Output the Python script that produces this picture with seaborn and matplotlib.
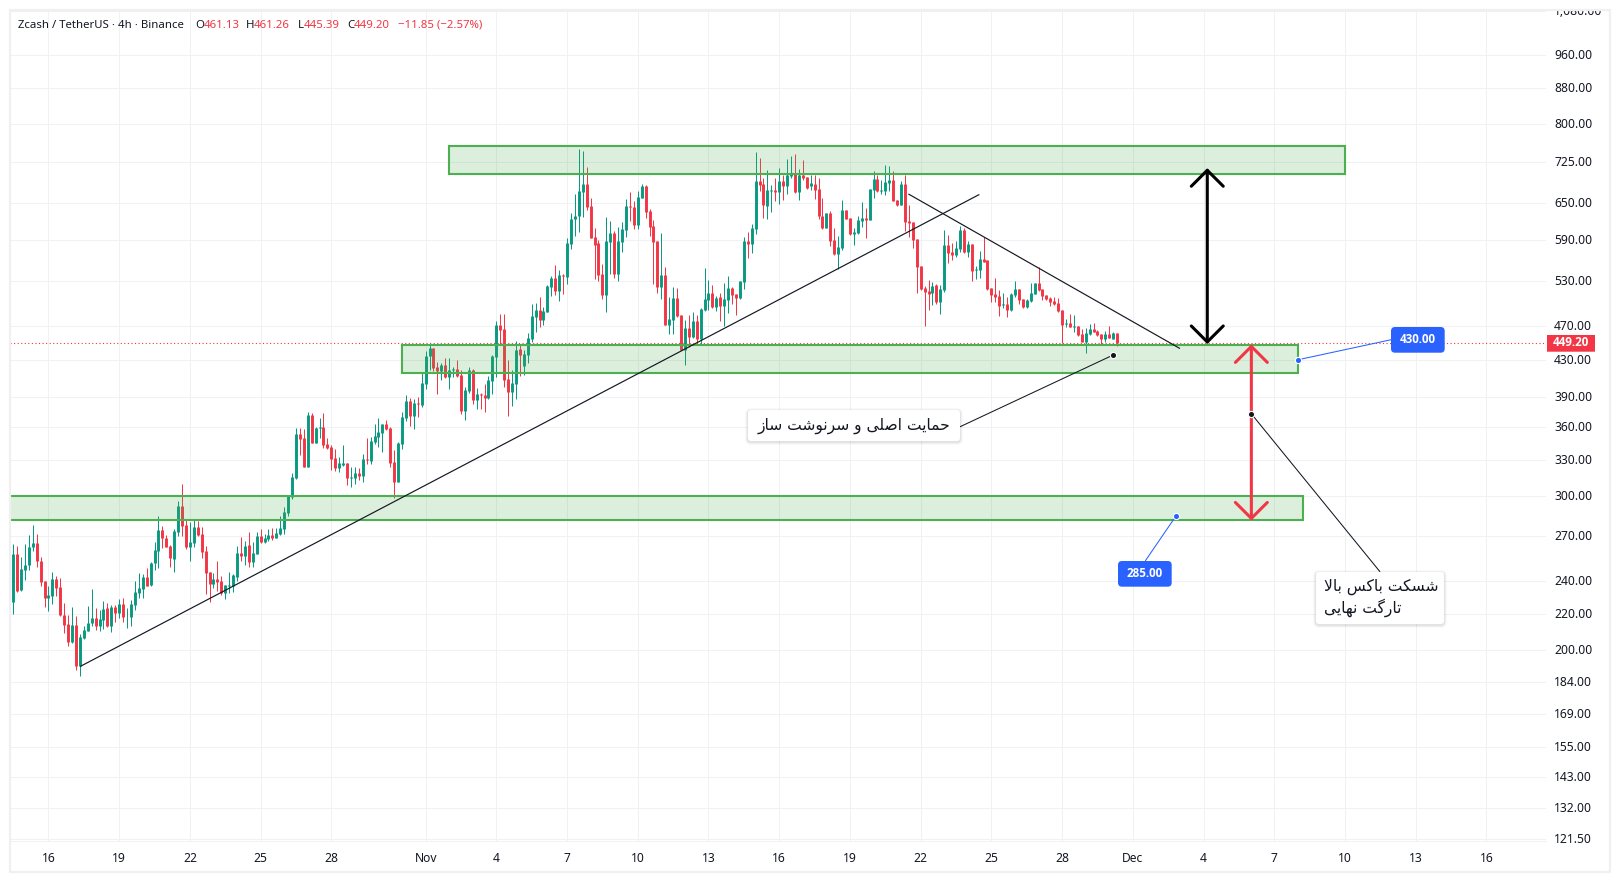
import matplotlib
matplotlib.use("Agg")
import matplotlib.pyplot as plt
import numpy as np
import pandas as pd
import seaborn as sns
from matplotlib.patches import FancyBboxPatch, Rectangle
from matplotlib.transforms import IdentityTransform, Bbox, TransformedBbox, ScaledTranslation
from matplotlib.ticker import FixedLocator, FixedFormatter, NullLocator

# ---------- data ----------
opens = [226.7,257.8,234,247.1,250,262.1,265.3,253,240,229.7,
230.9,241.3,236.3,219.5,214.3,204.2,213.8,191.5,206.3,210.5,
214.7,217.8,213.1,216.6,223.5,213.1,224.1,220.6,225.9,218,
218,225.5,232.6,235.2,242.5,237.5,251.3,260,274.6,268.8,
263.2,254.4,273.2,292.6,278.2,262.6,265.3,276.8,271.7,259.8,
245.8,238.1,241.3,240,232.6,236.8,236.8,242.5,258.5,256.4,
263.9,252.4,257.8,270.2,266,268.1,270.9,268.8,271.7,275.3,
287.2,299.6,314.9,353.8,350,324.3,371.9,345.5,359.4,360.4,
344.6,341.8,332,323.4,325.4,327.7,314.9,314.9,319.2,316.4,
331.2,329.4,346.4,351,354.6,363,359.4,328.6,311.6,344.6,
369,385.9,371,383.9,381.9,403.7,433.9,443.9,422.3,417.8,
424.5,411.3,418.9,420,413.5,375.9,396.3,418.9,386.9,393.1,
392,389,406.9,433.5,471.7,466.7,409,395.2,403.7,442.7,
423.4,435.8,454.6,481.7,490.7,477.9,488.1,521.4,533.9,516,
538.1,535.4,584,623.9,627.7,670,684,645,594.9,585.5,
539.5,510.5,587,601.2,539.5,587,606,645.7,644,614.1,
659.4,680.6,637,612.5,588.6,521.4,538.1,471.7,477.9,506.5,
484.3,441.5,467.9,457,476.7,454.6,490.7,503.8,513.2,494.6,
507.8,495.9,503.8,520,511.9,506.5,528.3,588.6,583.9,607.6,
689.6,684,645.7,671.6,673.4,669.8,689.6,680.6,698.3,702.6,
669.8,700.7,696.9,680.6,684,675.2,629,609.2,633.7,590.2,
568.7,577.9,638.8,625.5,599.5,601.2,620.6,625.5,622.2,673.4,
693.2,671.6,671.6,685.8,691.4,655.9,647.3,684,619.8,618.4,
591.8,551.1,520,516,513.2,524.2,501.2,517.3,582.4,571.8,
567.2,576.3,606,571.8,583.9,545.3,545.3,561.3,558.8,520,
511.9,509.2,497.2,498.5,490.7,510.5,518.7,505.1,494.6,502.5,
511.9,526.9,518.7,510.5,506.5,502.5,499.9,490.7,473,474.2,
469.2,470.4,460.7,451,460.7,466.8,464.3,460.7,454.6,460.7,
454.6,461.13]
closes = [257.8,233.4,247.8,250.4,262.6,265.3,252.6,239.6,229.7,231.3,
241.3,235.8,219.1,213.8,204.5,213.8,191.8,207.2,210.9,215,
217.8,213.1,217.2,222.9,213.1,224.1,220.6,225.9,218,218.4,
225.9,233.2,235.6,242.5,237,251.8,260.5,274.6,268.4,262.6,
255,273.9,292.6,277.5,262.6,266,276.8,270.9,259.1,245,
238.1,241.3,239.4,232.6,237.5,237.5,243.9,258.5,256.4,263.2,
252.4,258.5,270.2,266,268.8,270.9,268.8,272.4,276,288,
300.4,315.8,353.8,349.1,324.3,371.9,345.5,359.4,360.4,343.7,
340.9,331.2,323.4,327.4,327.7,314.9,315.8,319.2,316.4,331.2,
330.3,347.3,351.6,355.6,363,358.5,327.7,311.6,345.5,370,
385.9,371,383.9,382.9,404.7,434.7,443.9,421.1,417.8,424.5,
411.3,418.9,420,412.4,375.9,397.3,418.9,386.9,393.1,392,
389,407.9,434.7,471.7,465.5,407.9,395.2,404.7,441.5,435.8,
437,455.8,483,490.7,477.9,489.4,522.8,533.9,516,538.1,
536.8,585.5,623.9,629,671.6,684,643,593,582.4,538.1,
510.5,588.6,601.2,539.5,588.6,607.6,645.7,644,614.1,661.1,
680.6,635.4,611,587,521.4,538.1,471.7,479.1,506.5,483,
441.5,467.9,457,476.7,454.6,492,505.1,513.2,494.6,506.5,
495.9,505.1,520,510.5,506.5,529.7,588.6,583.9,609.2,689.6,
682.4,647.3,673.4,673.4,669.8,689.6,680.6,700.7,702,669.8,
700.7,695.1,677.4,685.8,673.4,629,608.7,633.7,588.6,568.7,
579.4,638.8,623.9,599.5,602.8,622.2,625.5,622.2,675.2,693.2,
671.6,673.4,687.7,691.4,654.2,647.3,684,618.4,616.6,590.2,
549.9,518.7,514.5,511.9,522.8,501.2,518.7,582.4,570.2,567.2,
577.9,606,571.8,583.9,543.9,546.7,561.3,557,518.7,510.5,
507.8,495.9,498.5,490.7,511.9,518.7,503.8,494.6,503.8,513.2,
526.9,517.3,509.2,505.1,501.2,498.5,489.4,471.7,474.2,469.2,
470.4,459.5,451,461.9,466.8,463,459.5,454.6,460.7,455.8,
461.9,449.2]
highs = [264.6,263.2,255.7,264.6,270.9,278.2,271.7,255.7,240,236.5,
245.7,243.4,241.7,226.5,219.5,224.1,218.9,208.8,213.1,224.7,
235,223.5,222.3,227.3,226.1,225.3,225.3,229.1,229.3,223.5,
228.3,240.2,244.8,244.6,248.6,252.4,266,284.9,277.5,270.9,
263.9,275.3,296.4,310,281.9,280.4,281.9,281.2,277,263.2,
245.8,244.9,253,243.2,237.5,245.8,244.6,263.2,269.5,266.7,
273.2,266,273.2,275.3,271.7,275.3,276,276,284.9,291.8,
301.2,319.2,359.4,359.4,358.5,375,374,360.4,369,374,
350,343.7,340,333.2,343.7,327.7,324.3,324.3,323.4,335.6,
350,351,363,369,363,367,360.4,339.1,346.4,375,
392.2,389,388,390,415.6,440.4,449.8,443.9,428,426.7,
432.4,432.4,422.3,430.1,418.9,400.4,422.3,420,399.4,394.2,
403.7,412.4,435.8,476.6,485.4,485.4,430.1,418.9,452.2,448.6,
441.5,462,498.6,499.9,507.8,494.6,524.2,536.8,552.5,545.3,
539.5,593.3,633.7,666.4,750.4,746.5,715.7,658.8,609.2,590.2,
553.9,627.2,620.6,604.4,611,619,657.6,669.8,654.2,671.6,
684,682.5,640.5,622.2,588.6,601.2,549.9,507.8,521.4,520,
484.3,477.9,484.3,488.1,484.3,493.3,548.2,531.1,524.2,509.2,
513.2,526.9,536.8,521.4,511.9,529.7,594.9,602.8,615.7,744.5,
732.8,694.8,710,682.4,694.8,713.7,700.7,730.9,736.6,740.6,
711.9,728.9,696.9,700.7,700.7,695.1,658.8,633.7,636,608.7,
596.5,655.9,638.8,625.5,609.2,629,652.4,642.2,675.2,708.1,
700.7,691.4,719.3,717.4,708.1,655.9,688.3,700.7,647.3,618.4,
591.8,551.1,522.8,531.1,528.3,525.6,524.2,606,598,585.5,
588.6,611.4,609.2,588.6,583.9,551.1,573.3,594.9,558.8,520,
533.9,517.3,513.2,507.8,513.2,529.7,518.7,505.1,505.1,526.9,
526.9,549.9,518.7,510.5,507.8,507.8,506.5,490.7,479.1,485.6,
484.3,470.4,466.8,467.9,473,474.2,465.5,460.7,464.3,470.4,
463,461.26]
lows = [220.2,232.8,233.8,240.6,246.7,259.4,248.9,237,224.3,221.9,
225.9,230.7,218.9,208.9,202.3,203.6,189.5,186.9,205.7,210.3,
212.8,210.9,210.5,211.5,212.4,210,215.6,217.6,215.3,211.7,
212.8,222.5,229.7,229.7,236.8,236.8,246.7,248.2,261.6,262.3,
249.1,246,270.2,270.2,261.2,253,262.6,270.2,255,231.9,
226.7,235.4,233.4,231.3,228.9,232.4,232.8,240,253,250.4,
249.1,249.1,257.6,265.3,265.5,266.5,267.6,268.4,270.7,271.7,
284.9,297.7,314.1,334.7,324,324,345.2,345.2,349.7,340.9,
340,321.7,320.9,320.2,324.6,309,307.4,309.9,313.3,311.9,
326.8,326.8,344.6,341.8,337.3,357.5,324.3,298.5,311.4,340,
366,361,358.5,370,379.9,398.4,418.9,417.8,393.1,407.9,
410.2,398.4,411.3,411.3,373,367,393.8,382.9,377.9,377.9,
375,388,393.1,411.3,448.6,400.4,371,380.9,388,411.7,
413.5,426.7,451,462.6,469.2,471.7,487.7,508.3,510.5,502.5,
511.9,525.6,576.3,595.4,602.8,627,638.8,592.8,532.5,528.7,
505.1,488.1,539.5,533.9,529.7,571.8,594.9,620.6,607.6,607.6,
658.8,625.5,595.9,525.6,513.2,505.1,471.7,460.7,460.7,481.7,
441.2,424.5,445.1,455.4,447.5,447.5,489.4,490.7,493.3,489.4,
476.7,470.4,486.8,498.5,484.3,505.1,518.7,562.8,570,599.5,
671.6,625.5,623.9,635.4,654.2,649,655.9,666.4,695.1,668,
655.9,691.4,675,673.4,657.6,623.9,607.6,608.7,579.9,567.3,
546.3,574.8,623.9,597.9,582.4,599.5,611,593.6,622.2,659.4,
669.8,666.4,664.6,671.6,653.6,645.7,647.3,604.4,594.9,577.9,
513.2,517.3,470.4,490.7,497.2,498.5,485.6,514.5,555,559.8,
564.3,571.8,570,564.3,529.7,532.5,533.9,557,517.3,501.2,
501.2,483,493.3,481.7,489.4,507.8,498.5,493.3,493.3,501.2,
511.9,516,503.8,503.8,495.9,497.2,488.1,449.4,469.2,468.8,
463,458.2,450.6,438,459.5,462.6,458.2,448.6,451,455.4,
454.2,445.39]

price_ticks = [1080,960,880,800,725,650,590,530,470,430,390,360,330,300,270,240,220,200,184,169,155,143,132,121.5]
price_labels = ["1,080.00","960.00","880.00","800.00","725.00","650.00","590.00","530.00","470.00","430.00",
                "390.00","360.00","330.00","300.00","270.00","240.00","220.00","200.00","184.00","169.00",
                "155.00","143.00","132.00","121.50"]
day_ticks = [0,3,6,9,12,16,19,22,25,28,31,34,37,40,43,46,49,52,55,58,61]   # days after 16 Oct
day_labels = ["16","19","22","25","28","Nov","4","7","10","13","16","19","22","25","28","Dec","4","7","10","13","16"]

first_bar_day = -1.5
bars_per_day = 6
last_price = 449.20

# zones: first day, last day, lower price, upper price
zones = [(17, 55, 702.0, 756.5), (15, 53, 415.5, 446.6), (-5, 53.2, 281.9, 300.3)]
# trend lines: (day, price), (day, price)
trends = [((1.345, 191.5), (39.49, 665.1)), ((36.48, 666.0), (48.0, 443.0))]
black_arrow = (49.16, 448.2, 713.0)
red_arrow = (51.03, 448.0, 281.4)

note_main = "حمایت اصلی و سرنوشت ساز"
note_break = ["شسکت باکس بالا", "تارگت نهایی"]

INK = "#131722"; GREEN = "#089981"; RED = "#F23645"; BLUE = "#2962FF"; ZONE = "#4CAF50"; GRID = "#f0f1f3"
W, H = 1620, 881

# ---------- minimal Persian shaping (matplotlib does no joining or bidi) ----------
FORMS = {"ا":(0xFE8D,0xFE8E),"ز":(0xFEAF,0xFEB0),"ر":(0xFEAD,0xFEAE),"و":(0xFEED,0xFEEE),
         "ب":(0xFE8F,0xFE90,0xFE91,0xFE92),"ت":(0xFE95,0xFE96,0xFE97,0xFE98),"ح":(0xFEA1,0xFEA2,0xFEA3,0xFEA4),
         "س":(0xFEB1,0xFEB2,0xFEB3,0xFEB4),"ش":(0xFEB5,0xFEB6,0xFEB7,0xFEB8),"ص":(0xFEB9,0xFEBA,0xFEBB,0xFEBC),
         "ل":(0xFEDD,0xFEDE,0xFEDF,0xFEE0),"م":(0xFEE1,0xFEE2,0xFEE3,0xFEE4),"ن":(0xFEE5,0xFEE6,0xFEE7,0xFEE8),
         "ه":(0xFEE9,0xFEEA,0xFEEB,0xFEEC),"ک":(0xFB8E,0xFB8F,0xFB90,0xFB91),"گ":(0xFB92,0xFB93,0xFB94,0xFB95),
         "ی":(0xFBFC,0xFBFD,0xFBFE,0xFBFF)}
def shape(s):
    out = []; i = 0
    while i < len(s):
        c = s[i]
        if c not in FORMS:
            out.append(c); i += 1; continue
        prev = s[i-1] if i else " "
        joins_prev = prev in FORMS and len(FORMS[prev]) == 4
        if c == "ل" and i+1 < len(s) and s[i+1] == "ا":
            out.append(chr(0xFEFC if joins_prev else 0xFEFB)); i += 2; continue
        nxt = s[i+1] if i+1 < len(s) else " "
        joins_next = len(FORMS[c]) == 4 and nxt in FORMS
        f = FORMS[c]
        if joins_prev and joins_next: g = f[3]
        elif joins_prev: g = f[1]
        elif joins_next: g = f[2]
        else: g = f[0]
        out.append(chr(g)); i += 1
    return "".join(reversed(out))

# ---------- figure ----------
sns.set_theme(style="white")
plt.rcParams["font.family"] = ["Noto Sans", "DejaVu Sans"]
fig = plt.figure(figsize=(W/100, H/100), dpi=100, facecolor="white")
ax = fig.add_axes([10/W, (H-840.5)/H, 1536/W, 830.5/H])
ax.set_yscale("log")

x_days = first_bar_day + np.arange(len(opens)) / bars_per_day
ohlc = pd.DataFrame({"x": x_days, "o": opens, "h": highs, "l": lows, "c": closes})
ohlc["bar"] = np.arange(len(ohlc))
ohlc["dir"] = np.where(ohlc["c"] >= ohlc["o"], "up", "down")
wicks = ohlc.melt(id_vars=["bar", "x", "dir"], value_vars=["h", "l"], value_name="price")
bodies = ohlc.melt(id_vars=["bar", "x", "dir"], value_vars=["o", "c"], value_name="price")
pal = {"up": GREEN, "down": RED}
sns.lineplot(data=wicks, x="x", y="price", hue="dir", units="bar", estimator=None, sort=False, palette=pal,
             legend=False, linewidth=0.72, solid_capstyle="butt", ax=ax, zorder=3)
sns.lineplot(data=bodies, x="x", y="price", hue="dir", units="bar", estimator=None, sort=False, palette=pal,
             legend=False, linewidth=2.1, solid_capstyle="butt", ax=ax, zorder=3.1)

ax.set_xlim(-1.633, 63.53)
ax.set_ylim(121.0, 1082)
ax.set_xlabel(""); ax.set_ylabel("")
ax.yaxis.tick_right()
ax.yaxis.set_major_locator(FixedLocator(price_ticks))
ax.yaxis.set_major_formatter(FixedFormatter(price_labels))
ax.yaxis.set_minor_locator(NullLocator())
ax.set_xticks(day_ticks, day_labels)
ax.tick_params(axis="y", length=0, pad=5.8, labelsize=8.7, labelcolor=INK)
ax.tick_params(axis="x", length=0, pad=8, labelsize=8.7, labelcolor=INK)
ax.grid(True, color=GRID, linewidth=0.72, zorder=0)
ax.set_axisbelow(True)
for s in ["top", "left", "right"]:
    ax.spines[s].set_visible(False)
ax.spines["bottom"].set_color(GRID); ax.spines["bottom"].set_linewidth(0.72)

# top label is cut by the frame; price labels sit a pixel higher than matplotlib's centre
clip = TransformedBbox(Bbox([[0, 0], [W, H-10]]), IdentityTransform())
lift = ScaledTranslation(0, 1/100, fig.dpi_scale_trans)
for t in ax.get_yticklabels():
    t.set_clip_box(clip); t.set_clip_on(True)
    t.set_transform(t.get_transform() + lift)

# last price dotted line
ax.axhline(last_price, color=RED, lw=0.8, ls=(0, (1, 2.2)), zorder=2.5)

# zones
for x0, x1, lo, hi in zones:
    ax.add_patch(Rectangle((x0, lo), x1-x0, hi-lo, facecolor=ZONE, alpha=0.2, edgecolor="none", zorder=4))
    ax.add_patch(Rectangle((x0, lo), x1-x0, hi-lo, facecolor="none", edgecolor=ZONE, lw=1.5, zorder=4.1))

# trend lines
for (x0, p0), (x1, p1) in trends:
    ax.plot([x0, x1], [p0, p1], color=INK, lw=0.85, zorder=5, solid_capstyle="butt")

# arrows
for (x, lo, hi), col, lw in [(black_arrow, "black", 2.2), (red_arrow, RED, 2.2)]:
    ax.annotate("", xy=(x, hi), xytext=(x, lo), zorder=6,
                arrowprops=dict(arrowstyle="<->,head_length=1,head_width=1", mutation_scale=11.5,
                                lw=lw, color=col, shrinkA=0, shrinkB=0))

# callout connectors and anchors
connectors = [((45.16, 435.4), (38.67, 360.4), INK), ((51.03, 372.9), (56.49, 245.8), INK),
              ((53.0, 430.0), (56.96, 453.4), BLUE), ((47.84, 285.0), (46.53, 253.0), BLUE)]
for (x0, p0), (x1, p1), col in connectors:
    ax.plot([x0, x1], [p0, p1], color=col, lw=0.75, zorder=6.5, solid_capstyle="butt")
    ax.scatter([x0], [p0], s=20, color=col, edgecolor="white", linewidth=0.8, zorder=7)

# pixel-placed labels
def box(x0, y0, x1, y1, face, r, shadow=False, pad_z=8):
    if shadow:
        for grow, alpha in [(3, 0.025), (2, 0.035), (1, 0.05)]:
            ax.add_patch(FancyBboxPatch((x0-grow, H-y1-grow-1), x1-x0+2*grow, y1-y0+2*grow,
                                        boxstyle=f"round,pad=0,rounding_size={r+grow}",
                                        transform=IdentityTransform(), facecolor="black", alpha=alpha,
                                        edgecolor="none", zorder=pad_z-0.1, clip_on=False))
    ax.add_patch(FancyBboxPatch((x0, H-y1), x1-x0, y1-y0, boxstyle=f"round,pad=0,rounding_size={r}",
                                transform=IdentityTransform(), facecolor=face, edgecolor="none",
                                zorder=pad_z, clip_on=False))
def label(x, y, s, **kw):
    kw.setdefault("color", INK); kw.setdefault("va", "center"); kw.setdefault("ha", "left")
    kw.setdefault("fontsize", 8.7); kw.setdefault("zorder", 9)
    return ax.text(x, H-y, s, transform=IdentityTransform(), clip_on=False, **kw)

box(748, 410, 960, 441, "white", 3, shadow=True)
label(854, 425.5, shape(note_main), ha="center", family="DejaVu Sans", fontsize=11.2)
box(1316, 572, 1444, 624, "white", 3, shadow=True)
label(1324, 587, shape(note_break[0]), family="DejaVu Sans", fontsize=11.2)
label(1324, 608, shape(note_break[1]), family="DejaVu Sans", fontsize=11.2)
box(1391, 327, 1444.7, 352.7, BLUE, 4)
label(1418, 339.5, "430.00", ha="center", color="white", fontweight="bold", family="Open Sans", fontsize=8.4)
box(1118, 561, 1171.7, 586.7, BLUE, 4)
label(1145, 573.5, "285.00", ha="center", color="white", fontweight="bold", family="Open Sans", fontsize=8.4)
box(1547, 335, 1595, 351.7, RED, 0)
label(1571, 343, "449.20", ha="center", color="white", fontweight="bold", family="Open Sans", fontsize=8.4)

# header
header = [(18, "Zcash / TetherUS · 4h · Binance", INK), (195, "O", INK), (204, "461.13", RED), (246, "H", INK),
          (254, "461.26", RED), (297.5, "L", INK), (304, "445.39", RED), (347, "C", INK), (354, "449.20", RED),
          (398, "−11.85 (−2.57%)", RED)]
for x, s, col in header:
    label(x, 25, s, color=col, fontsize=8.2)

# outer frame
fig.add_artist(Rectangle((10, H-872), 1600, 862, transform=IdentityTransform(), facecolor="none",
                         edgecolor="#f0f0f0", lw=1.6))

fig.savefig("out.png", dpi=100, facecolor="white")
